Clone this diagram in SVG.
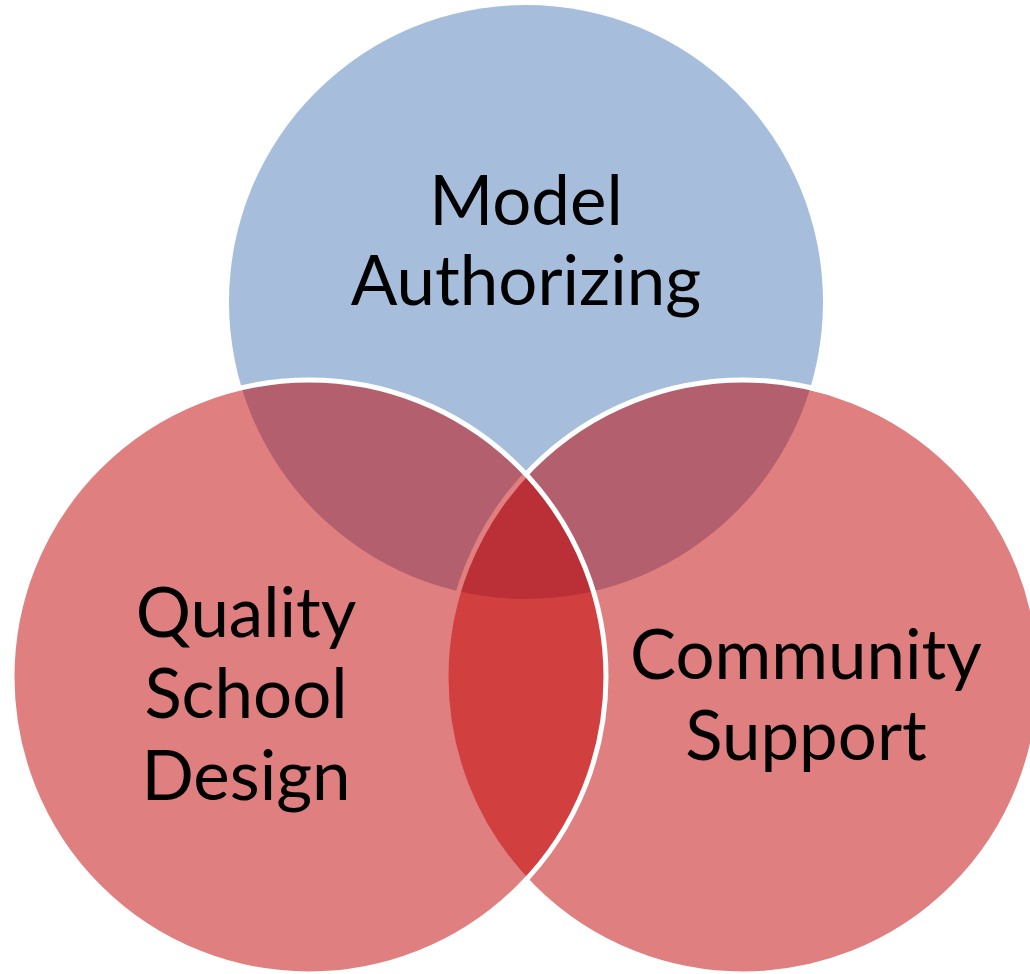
<svg xmlns="http://www.w3.org/2000/svg" width="1030" height="974" viewBox="0 0 1030 974">
<style>
.lbl{font-family:Lato,"Open Sans",sans-serif;font-size:69px;fill:#000;text-anchor:middle}
.red{fill:#c10000;fill-opacity:0.5;stroke:#fff;stroke-width:5}
</style>
<rect width="1030" height="974" fill="#fff"/>
<g id="model-authorizing">
<circle cx="526" cy="302" r="297" fill="#a6bedc"/>
<text class="lbl" x="526" y="225">Model</text>
<text class="lbl" x="526" y="305">Authorizing</text>
</g>
<g id="community-support">
<circle class="red" cx="743" cy="677" r="297"/>
</g>
<g id="quality-school-design">
<circle class="red" cx="309" cy="677" r="297"/>
</g>
<g id="labels">
<text class="lbl" x="246" y="637">Quality</text>
<text class="lbl" x="246" y="718">School</text>
<text class="lbl" x="246" y="800">Design</text>
<text class="lbl" x="806" y="679">Community</text>
<text class="lbl" x="806" y="760">Support</text>
</g>
</svg>
